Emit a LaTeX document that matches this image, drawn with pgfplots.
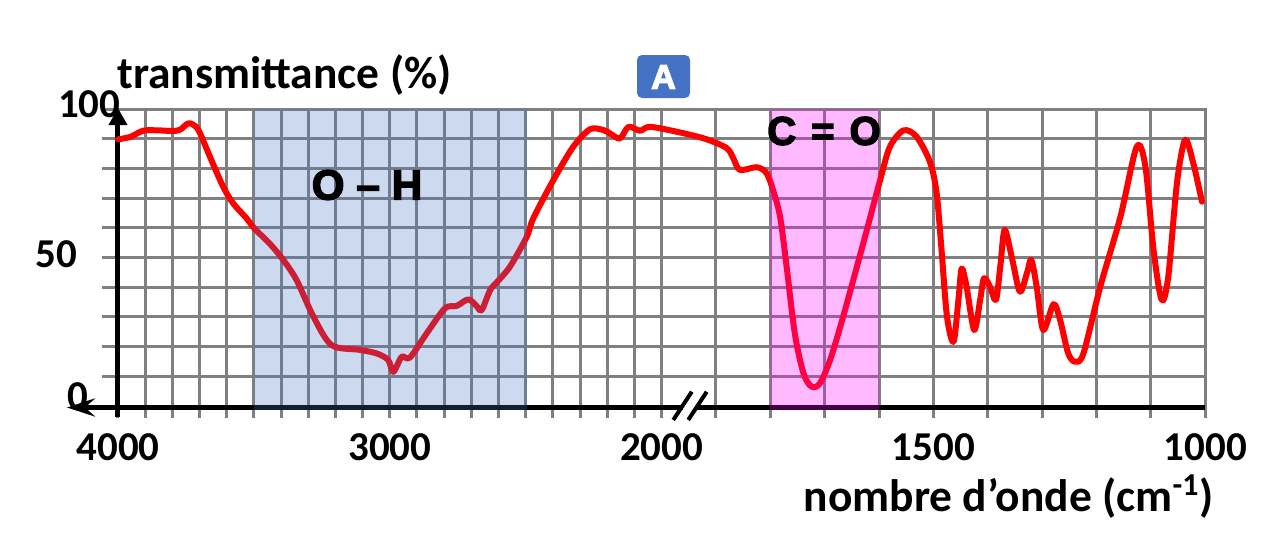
\documentclass[border=0pt]{standalone}
\usepackage{pgfplots}
\pgfplotsset{compat=1.18}
\usepackage{pgfplotstable}
\usepackage{fontspec}
\setmainfont{Carlito}
\newfontfamily\heavy[BoldFeatures={FakeBold=3.5}]{Liberation Sans}
\usetikzlibrary{arrows.meta}
\definecolor{curvered}{RGB}{255,0,0}
\definecolor{ohblue}{RGB}{68,114,196}
\definecolor{comag}{RGB}{255,0,255}
\definecolor{gridgray}{RGB}{128,128,128}

\pgfplotstableread{
wn T
4000 89.8
3955 90.6
3907 92.7
3850 92.8
3802 92.6
3772 93.0
3741 95.2
3715 94.2
3698 91.8
3662 84.0
3613 73.8
3576 68.2
3530 63.5
3496 59.6
3440 54.5
3392 49.2
3343 42.4
3281 30.1
3214 20.5
3110 18.9
3048 17.7
3006 15.5
2987 11.5
2956 16.6
2926 16.3
2864 24.5
2797 32.9
2754 33.7
2711 35.9
2680 33.6
2662 32.3
2631 39.0
2607 41.6
2558 46.9
2496 57.0
2472 63.2
2398 76.1
2325 87.3
2263 93.2
2214 92.9
2190 91.8
2153 90.1
2122 94.0
2079 92.7
2042 94.0
1966 92.1
1917 89.8
1880 86.8
1868 83.4
1856 79.5
1825 80.4
1807 78.4
1795 72.7
1782 63.7
1770 46.9
1755 24.5
1739 11.0
1724 6.5
1709 7.6
1690 15.5
1666 30.1
1629 54.8
1598 76.1
1580 87.3
1555 92.8
1531 90.7
1506 82.0
1494 71.6
1485 52.5
1475 30.1
1463 21.6
1454 35.7
1448 46.3
1439 40.2
1425 25.6
1414 35.7
1407 43.0
1396 40.2
1385 35.7
1377 46.9
1369 59.3
1356 50.3
1341 38.5
1328 44.7
1320 49.2
1310 40.2
1298 25.6
1279 34.3
1267 29.0
1252 17.7
1239 14.9
1224 17.7
1193 40.2
1156 63.7
1126 87.3
1110 80.6
1095 52.5
1080 35.7
1068 43.5
1052 75.0
1037 89.6
1022 81.8
1006 68.8
}\spectrum

\begin{document}
\begin{tikzpicture}
\path[use as bounding box] (0,0) rectangle (637.5pt,-276pt);
\begin{axis}[
  anchor=origin, at={(59pt,-203pt)},
  x=0.1359pt, y=1.485pt,
  xmin=-60, xmax=4008, ymin=-4, ymax=100,
  clip=false,
  axis line style={draw=none},
  major tick length=0pt, minor tick length=0pt,
  xtick={0,1000,2000,3000,4000},
  xticklabels={4000,3000,2000,1500,1000},
  minor xtick={100,200,300,400,500,600,700,800,900,1100,1200,1300,1400,1500,1600,1700,1800,1900,2200,2400,2600,2800,3200,3400,3600,3800},
  ytick={0,50,100},
  yticklabels={{\raisebox{6.5pt}{0}\hspace*{16pt}},{50\hspace*{21.5pt}},{\raisebox{1.5pt}{100}}},
  minor ytick={10,20,30,40,60,70,80,90},
  grid=both,
  major grid style={gridgray, line width=1.5pt},
  minor grid style={gridgray, line width=1.5pt},
  tick label style={font=\bfseries\fontsize{20.5}{20.5}\selectfont, inner sep=0pt},
  xticklabel style={anchor=north, yshift=-7.5pt},
  yticklabel style={anchor=east, xshift=9.6pt, yshift=1.6pt},
  xlabel={nombre d’onde (cm\textsuperscript{-1})},
  xlabel style={at={(rel axis cs:1.006,-0.3015)}, anchor=base east, inner sep=0pt, font=\bfseries\fontsize{22.75}{22.75}\selectfont},
  ylabel={transmittance (\%)},
  ylabel style={at={(rel axis cs:0.0138,1.068)}, rotate=-90, anchor=base west, inner sep=0pt, font=\bfseries\fontsize{22.75}{22.75}\selectfont},
]
\draw[line width=2.5pt, -{Triangle[length=8.5pt,width=9pt]}] (axis cs:0,-3.7) -- (axis cs:0,100.3);
\draw[line width=2.5pt, -{Stealth[length=14pt,width=9pt,inset=5pt]}] (axis cs:4000,-0.5) -- (axis cs:-188,-0.5);
\addplot[curvered, line width=3pt, smooth, tension=0.5, line join=round, line cap=round,
  x filter/.expression={x>=2000 ? 4000-x : 6000-2*x}] table[x=wn, y=T] {\spectrum};
\fill[ohblue, opacity=0.27] (axis cs:500,-1.2) rectangle (axis cs:1505,100);
\fill[comag, opacity=0.27] (axis cs:2400,-1.2) rectangle (axis cs:2800,100);
\draw[white, line width=3.4pt] (axis cs:2077,-0.5) -- (axis cs:2132,-0.5);
\draw[black, line width=2pt] (axis cs:2043,-4.7) -- (axis cs:2111,4.8);
\draw[black, line width=2pt] (axis cs:2098,-4.7) -- (axis cs:2166,4.8);
\end{axis}
\node[font=\heavy\bfseries\fontsize{21}{21}\selectfont, inner sep=0pt] at (183.5pt,-92.5pt) {O\hspace{6pt}–\hspace{6pt}H};
\node[font=\heavy\bfseries\fontsize{20}{20}\selectfont, inner sep=0pt] at (412pt,-65.5pt) {C\hspace{7.5pt}=\hspace{7.5pt}O};
\fill[ohblue, rounded corners=2.5pt] (318.5pt,-27.5pt) rectangle (345pt,-49pt);
\node[white, font=\heavy\bfseries\fontsize{17}{17}\selectfont, inner sep=0pt] at (331.75pt,-38.5pt) {A};
\end{tikzpicture}
\end{document}
